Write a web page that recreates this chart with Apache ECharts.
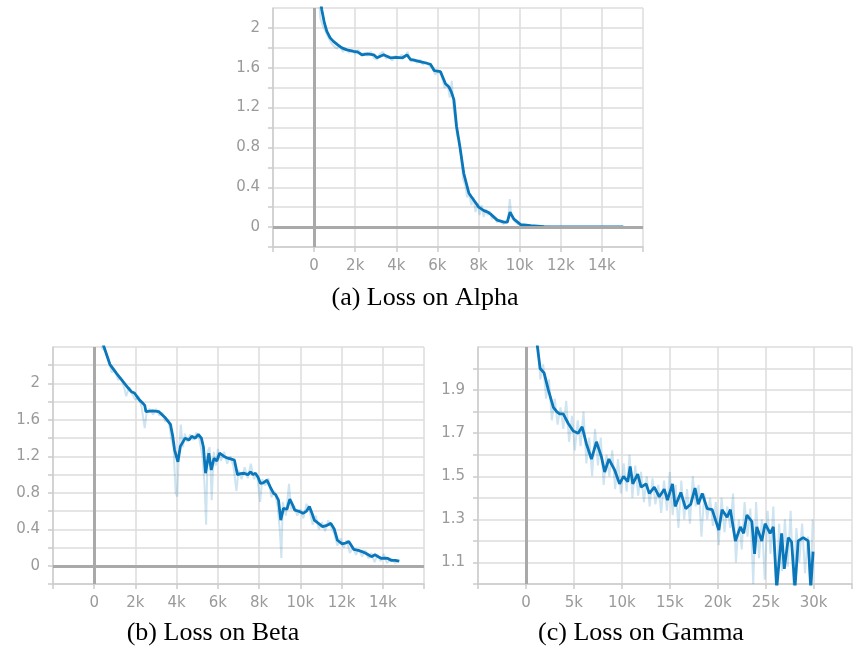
<!DOCTYPE html>
<html>
<head>
<meta charset="utf-8">
<script src="https://cdn.jsdelivr.net/npm/echarts@6/dist/echarts.min.js"></script>
<style>
  html, body { margin: 0; padding: 0; background: #fff; }
  #chart { width: 855px; height: 652px; }
</style>
</head>
<body>
<div id="chart"></div>
<script>
// loss curves, [step, value]
const alphaSmooth = [[0,2.9],[200,2.45],[375,2.18],[500,2.05],[620,1.965],[780,1.9],[940,1.865],[1150,1.83],[1350,1.8],[1600,1.78],[1920,1.765],[2100,1.76],[2330,1.73],[2600,1.74],[2900,1.73],[3060,1.7],[3380,1.73],[3700,1.7],[4000,1.705],[4300,1.7],[4520,1.73],[4600,1.745],[4680,1.685],[5010,1.67],[5300,1.655],[5660,1.635],[5850,1.57],[6150,1.56],[6390,1.44],[6550,1.41],[6670,1.36],[6720,1.38],[6800,1.28],[6930,1.01],[7090,0.81],[7280,0.54],[7530,0.34],[7770,0.27],[8010,0.2],[8100,0.22],[8260,0.165],[8450,0.15],[8590,0.13],[8910,0.07],[9240,0.05],[9400,0.05],[9530,0.15],[9720,0.08],[10050,0.025],[10540,0.015],[11190,0.005],[12000,0.002],[13000,0.001],[14000,0.001],[15040,0.001]];
const alphaRaw = [[0,3.0],[150,2.6],[300,2.1],[420,2.02],[520,1.98],[650,1.92],[800,1.86],[950,1.82],[1100,1.79],[1250,1.82],[1400,1.76],[1550,1.79],[1700,1.75],[1850,1.78],[2000,1.74],[2150,1.78],[2300,1.72],[2450,1.75],[2600,1.72],[2750,1.76],[2900,1.7],[3050,1.68],[3200,1.74],[3350,1.76],[3500,1.69],[3650,1.72],[3800,1.67],[3950,1.72],[4100,1.69],[4250,1.73],[4400,1.7],[4550,1.76],[4700,1.66],[4850,1.69],[5000,1.65],[5150,1.68],[5300,1.63],[5450,1.66],[5600,1.62],[5750,1.6],[5900,1.53],[6050,1.57],[6200,1.52],[6350,1.4],[6500,1.43],[6600,1.3],[6700,1.47],[6780,1.2],[6850,1.1],[6950,0.92],[7050,0.88],[7150,0.7],[7250,0.48],[7350,0.42],[7450,0.3],[7550,0.33],[7650,0.22],[7750,0.3],[7850,0.15],[7950,0.24],[8050,0.12],[8150,0.22],[8250,0.1],[8350,0.18],[8450,0.12],[8550,0.16],[8650,0.08],[8750,0.1],[8900,0.05],[9050,0.06],[9200,0.03],[9350,0.05],[9450,0.1],[9520,0.28],[9600,0.1],[9750,0.06],[9900,0.03],[10100,0.02],[10300,0.025],[10600,0.01],[11000,0.008],[11500,0.003],[12500,0.001],[15040,0.001]];

const betaSmooth = [[0,2.75],[250,2.58],[476,2.4],[760,2.21],[1080,2.11],[1400,2.02],[1650,1.95],[1800,1.91],[1950,1.895],[2190,1.82],[2350,1.785],[2450,1.76],[2510,1.69],[2830,1.7],[3140,1.69],[3460,1.62],[3700,1.55],[3810,1.42],[3900,1.27],[3980,1.25],[4060,1.14],[4180,1.31],[4410,1.4],[4600,1.38],[4730,1.42],[4900,1.4],[5050,1.44],[5200,1.4],[5300,1.3],[5400,1.015],[5560,1.235],[5680,1.05],[5810,1.18],[5950,1.15],[6080,1.235],[6300,1.2],[6480,1.18],[6650,1.17],[6800,1.16],[6950,1.0],[7100,1.01],[7270,1.015],[7450,1.0],[7590,1.03],[7700,1.0],[7820,1.015],[7950,0.97],[8060,0.905],[8200,0.91],[8380,0.94],[8550,0.86],[8700,0.795],[8800,0.78],[8940,0.72],[9050,0.5],[9180,0.63],[9350,0.62],[9490,0.73],[9600,0.68],[9730,0.61],[9900,0.6],[10130,0.575],[10300,0.6],[10440,0.65],[10560,0.58],[10680,0.5],[10850,0.47],[11080,0.43],[11250,0.44],[11480,0.465],[11650,0.4],[11800,0.28],[12030,0.24],[12200,0.25],[12350,0.265],[12590,0.18],[12800,0.17],[12990,0.155],[13150,0.14],[13300,0.12],[13450,0.1],[13620,0.12],[13780,0.1],[13940,0.08],[14100,0.085],[14250,0.08],[14400,0.06],[14600,0.06],[14800,0.05]];
const betaRaw = [[0,2.8],[200,2.62],[400,2.38],[550,2.35],[700,2.25],[850,2.12],[1000,2.15],[1150,2.04],[1300,2.06],[1450,1.96],[1550,1.86],[1700,1.96],[1850,1.88],[2000,1.82],[2150,1.86],[2300,1.74],[2450,1.51],[2550,1.7],[2700,1.72],[2850,1.66],[3000,1.72],[3150,1.65],[3300,1.68],[3450,1.58],[3600,1.6],[3750,1.38],[3850,1.3],[3950,0.8],[4030,0.76],[4100,1.2],[4200,1.55],[4300,1.3],[4400,1.45],[4500,1.36],[4650,1.44],[4800,1.38],[4950,1.46],[5100,1.39],[5250,1.2],[5350,0.9],[5430,0.45],[5500,1.25],[5600,1.3],[5700,0.72],[5800,1.25],[5900,1.1],[6000,1.28],[6150,1.15],[6300,1.25],[6450,1.12],[6600,1.2],[6750,1.1],[6900,0.82],[7000,1.05],[7150,0.95],[7300,1.08],[7450,0.96],[7600,1.12],[7750,0.95],[7900,1.0],[8050,0.7],[8150,0.95],[8300,0.88],[8450,0.96],[8600,0.75],[8750,0.82],[8900,0.65],[9000,0.4],[9080,0.085],[9150,0.7],[9300,0.55],[9450,0.9],[9550,0.62],[9700,0.66],[9850,0.55],[10000,0.62],[10150,0.52],[10300,0.68],[10450,0.6],[10600,0.45],[10750,0.55],[10900,0.4],[11050,0.48],[11200,0.38],[11350,0.5],[11500,0.42],[11650,0.35],[11800,0.22],[11950,0.3],[12100,0.2],[12250,0.28],[12400,0.14],[12550,0.2],[12700,0.12],[12850,0.18],[13000,0.1],[13150,0.17],[13300,0.08],[13450,0.14],[13600,0.04],[13750,0.12],[13900,0.05],[14050,0.13],[14200,0.03],[14400,0.08],[14600,0.03],[14800,0.06]];

const gammaSmooth = [[0,2.6],[600,2.3],[1200,2.1],[1480,2.0],[1890,1.98],[2340,1.9],[2860,1.82],[3210,1.8],[3500,1.79],[3890,1.79],[4410,1.745],[4930,1.71],[5440,1.7],[5860,1.73],[6310,1.65],[6830,1.58],[7350,1.66],[7870,1.59],[8210,1.52],[8650,1.58],[9240,1.53],[9760,1.465],[10170,1.5],[10620,1.475],[10870,1.545],[11140,1.465],[11650,1.51],[12010,1.45],[12520,1.465],[12870,1.42],[13380,1.45],[13900,1.405],[14420,1.44],[14760,1.39],[15280,1.465],[15560,1.36],[16150,1.425],[16660,1.35],[17180,1.37],[17630,1.445],[17970,1.37],[18380,1.42],[18900,1.35],[19420,1.345],[20110,1.25],[20450,1.345],[20970,1.31],[21320,1.345],[21840,1.2],[22360,1.265],[22700,1.235],[23040,1.32],[23560,1.29],[23840,1.14],[24070,1.265],[24590,1.2],[24940,1.28],[25460,1.235],[25800,1.265],[26150,0.98],[26660,1.235],[26940,1.07],[27360,1.215],[27700,1.195],[28050,0.98],[28390,1.2],[28910,1.215],[29430,1.2],[29700,0.98],[29940,1.15]];
const gammaRaw = [[1000,2.25],[1200,2.15],[1500,1.95],[1800,2.02],[2100,1.86],[2400,1.95],[2700,1.76],[3000,1.86],[3300,1.74],[3600,1.82],[3900,1.72],[4200,1.85],[4500,1.66],[4800,1.78],[5100,1.62],[5400,1.76],[5700,1.64],[6000,1.8],[6300,1.56],[6600,1.68],[6900,1.5],[7200,1.72],[7500,1.55],[7800,1.68],[8100,1.46],[8400,1.6],[8700,1.5],[9000,1.62],[9300,1.44],[9600,1.58],[9900,1.42],[10200,1.56],[10500,1.43],[10800,1.6],[11100,1.4],[11400,1.55],[11700,1.41],[12000,1.52],[12300,1.38],[12600,1.5],[12900,1.36],[13200,1.49],[13500,1.37],[13800,1.46],[14100,1.33],[14400,1.48],[14700,1.34],[15000,1.52],[15300,1.32],[15600,1.46],[15900,1.26],[16200,1.48],[16500,1.3],[16800,1.44],[17100,1.28],[17400,1.5],[17700,1.36],[18000,1.46],[18300,1.22],[18600,1.42],[18900,1.3],[19200,1.4],[19500,1.27],[19800,1.38],[20100,1.18],[20400,1.4],[20700,1.24],[21000,1.36],[21300,1.26],[21600,1.42],[21900,1.1],[22200,1.3],[22500,1.16],[22800,1.38],[23100,1.22],[23400,1.35],[23700,1.0],[24000,1.38],[24300,1.12],[24600,1.3],[24900,1.02],[25200,1.34],[25500,1.14],[25800,1.36],[26100,0.95],[26400,1.28],[26700,1.06],[27000,1.3],[27300,1.08],[27600,1.34],[27900,0.98],[28200,1.26],[28500,1.1],[28800,1.28],[29100,1.05],[29400,1.22],[29700,0.97],[29900,1.3]];

const captions = ['(a) Loss on Alpha', '(b) Loss on Beta', '(c) Loss on Gamma'];

const labelGray = '#9a9a9a';
const gridGray = '#dcdcdc';
const axisGray = '#cccccc';
const darkBlue = '#0a77bb';
const lightBlue = 'rgba(10,119,187,0.2)';

function kFmt(lo, hi) {
  return function (v) {
    if (v < lo || v > hi) return '';
    return v === 0 ? '0' : (v / 1000) + 'k';
  };
}

function xAxisOf(i, min, max, step, hi) {
  return {
    type: 'value', gridIndex: i, min: min, max: max, interval: step,
    axisLine: { show: true, onZero: false, lineStyle: { color: axisGray, width: 1.5 } },
    axisTick: { show: true, length: 5, lineStyle: { color: axisGray, width: 1.5 } },
    axisLabel: { color: labelGray, fontSize: 15, fontFamily: 'DejaVu Sans', margin: 12,
      showMinLabel: true, showMaxLabel: true, formatter: kFmt(0, hi) },
    splitLine: { show: true, lineStyle: { color: gridGray, width: 1.5 } }
  };
}

function yAxisOf(i, min, max, step, fmt) {
  return {
    type: 'value', gridIndex: i, min: min, max: max, interval: step,
    axisLine: { show: true, onZero: false, lineStyle: { color: axisGray, width: 1.5 } },
    axisTick: { show: true, length: 5, lineStyle: { color: axisGray, width: 1.5 } },
    axisLabel: { color: labelGray, fontSize: 15, fontFamily: 'DejaVu Sans', margin: 13,
      showMaxLabel: false, formatter: fmt },
    splitLine: { show: true, lineStyle: { color: gridGray, width: 1.5 } }
  };
}

// labels every 0.4 from 0 up to 2
const fmtAB = function (v) {
  const r = Math.round(v * 10);
  if (r < 0 || r > 20 || r % 4 !== 0) return '';
  return r === 0 ? '0' : r === 20 ? '2' : (r / 10).toFixed(1);
};
// labels on odd tenths up to 1.9
const fmtC = function (v) {
  const r = Math.round(v * 10);
  return (r % 2 === 1 && r <= 19) ? (r / 10).toFixed(1) : '';
};

function zeroLines(withY) {
  const d = [{ xAxis: 0 }];
  if (withY) d.push({ yAxis: 0 });
  return {
    silent: true, symbol: ['none', 'none'], animation: false,
    label: { show: false },
    lineStyle: { color: '#a9a9a9', width: 3, type: 'solid' },
    data: d
  };
}

function rawSeries(i, data, withY) {
  return {
    type: 'line', xAxisIndex: i, yAxisIndex: i, data: data, showSymbol: false,
    lineStyle: { color: lightBlue, width: 2 }, z: 2, clip: true,
    markLine: zeroLines(withY)
  };
}
function smoothSeries(i, data) {
  return {
    type: 'line', xAxisIndex: i, yAxisIndex: i, data: data, showSymbol: false,
    lineStyle: { color: darkBlue, width: 2.8 }, z: 3, clip: true
  };
}

const chart = echarts.init(document.getElementById('chart'), null, { renderer: 'canvas' });
chart.setOption({
  animation: false,
  backgroundColor: '#fff',
  grid: [
    { left: 273, right: 212, top: 8, bottom: 405 },
    { left: 53, right: 431, top: 347, bottom: 68 },
    { left: 478, right: 1, top: 347, bottom: 68 }
  ],
  xAxis: [
    xAxisOf(0, -2000, 16000, 2000, 14000),
    xAxisOf(1, -2000, 16000, 2000, 14000),
    xAxisOf(2, -5000, 34000, 5000, 30000)
  ],
  yAxis: [
    yAxisOf(0, -0.2, 2.2, 0.2, fmtAB),
    yAxisOf(1, -0.2, 2.4, 0.2, fmtAB),
    yAxisOf(2, 1.0, 2.1, 0.1, fmtC)
  ],
  series: [
    rawSeries(0, alphaRaw, true), smoothSeries(0, alphaSmooth),
    rawSeries(1, betaRaw, true), smoothSeries(1, betaSmooth),
    rawSeries(2, gammaRaw, false), smoothSeries(2, gammaSmooth)
  ],
  graphic: [
    { type: 'text', x: 425, y: 298, style: { text: captions[0], font: '26px "Liberation Serif"', fill: '#000', align: 'center', verticalAlign: 'middle' } },
    { type: 'text', x: 213, y: 633, style: { text: captions[1], font: '26px "Liberation Serif"', fill: '#000', align: 'center', verticalAlign: 'middle' } },
    { type: 'text', x: 641, y: 633, style: { text: captions[2], font: '26px "Liberation Serif"', fill: '#000', align: 'center', verticalAlign: 'middle' } }
  ]
});
</script>
</body>
</html>
